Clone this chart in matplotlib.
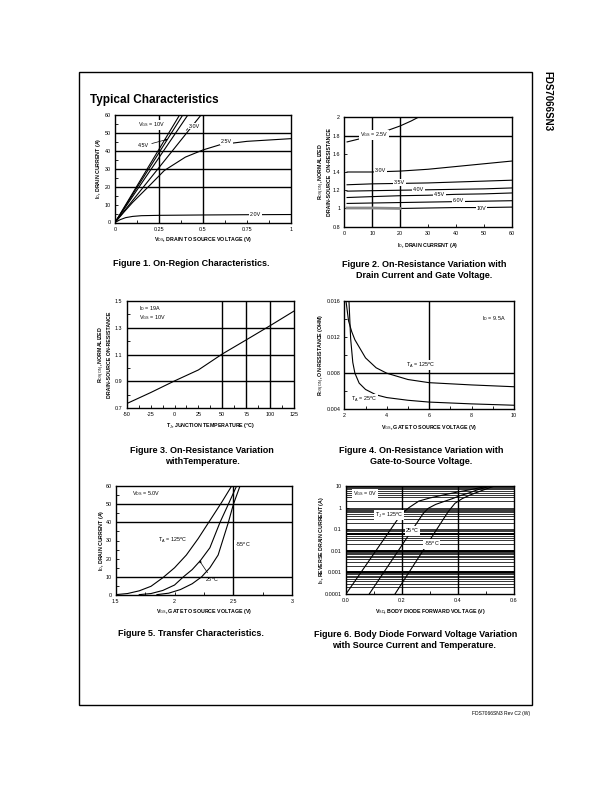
import matplotlib
matplotlib.use("Agg")
import matplotlib.pyplot as plt
from matplotlib.ticker import AutoMinorLocator, FixedLocator
from matplotlib.patches import Rectangle

plt.rcParams['font.family'] = ['Liberation Sans', 'DejaVu Sans']
plt.rcParams['mathtext.fontset'] = 'custom'
plt.rcParams['mathtext.rm'] = 'Liberation Sans'
plt.rcParams['mathtext.it'] = 'Liberation Sans'
plt.rcParams['mathtext.bf'] = 'Liberation Sans:bold'
plt.rcParams['axes.unicode_minus'] = False

# ---------------- data ----------------
# Figure 1: On-region characteristics
f1_lin_labels = ['10V', '6.0V', '4.5V', '3.0V']
f1_lin_vds_end = [0.367, 0.385, 0.414, 0.489]     # VDS (V) where ID reaches 60 A
f1_lin_id_end = 60
f1_vds_25 = [0, 0.05, 0.10, 0.19, 0.28, 0.40, 0.50, 0.60, 0.75, 1.00]
f1_id_25 = [0, 5.7, 11.2, 20, 29, 36.5, 40.5, 43.5, 45.3, 46.8]
f1_vds_20 = [0, 0.03, 0.06, 0.10, 0.15, 0.25, 0.50, 0.75, 1.00]
f1_id_20 = [0, 1.6, 2.7, 3.4, 3.8, 4.0, 4.2, 4.35, 4.45]

# Figure 2: normalized RDS(on) vs drain current
f2_id = [1, 10, 20, 30, 40, 50, 60]
f2_id_25 = [1, 5, 10, 15, 20, 24, 26.5]
f2_r_25 = [1.73, 1.76, 1.805, 1.85, 1.905, 1.96, 2.0]
f2_r_30 = [1.40, 1.40, 1.41, 1.43, 1.46, 1.49, 1.52]
f2_r_35 = [1.26, 1.27, 1.275, 1.28, 1.29, 1.30, 1.31]
f2_r_40 = [1.19, 1.195, 1.20, 1.205, 1.21, 1.215, 1.225]
f2_r_45 = [1.12, 1.13, 1.14, 1.145, 1.155, 1.16, 1.17]
f2_r_60 = [1.055, 1.06, 1.065, 1.07, 1.075, 1.08, 1.085]
f2_r_10 = [1.005, 1.005, 1.0, 1.005, 1.01, 1.01, 1.015]

# Figure 3: normalized RDS(on) vs temperature
f3_tj = [-50, -25, 0, 25, 50, 75, 100, 125]
f3_r = [0.735, 0.817, 0.904, 0.986, 1.105, 1.21, 1.316, 1.425]

# Figure 4: RDS(on) vs VGS
f4_vgs_125 = [2.08, 2.2, 2.35, 2.5, 3.0, 3.5, 4.0, 5.0, 6.0, 8.0, 10.0]
f4_r_125 = [0.016, 0.0138, 0.0126, 0.0117, 0.0097, 0.0086, 0.0080, 0.0073, 0.00695, 0.0067, 0.0065]
f4_vgs_25 = [2.22, 2.3, 2.4, 2.5, 2.7, 3.0, 3.5, 4.0, 5.0, 6.0, 8.0, 10.0]
f4_r_25 = [0.016, 0.0118, 0.0092, 0.0080, 0.0069, 0.0062, 0.0056, 0.0053, 0.0050, 0.0048, 0.0046, 0.00445]

# Figure 5: transfer characteristics
f5_vgs_125 = [1.5, 1.6, 1.7, 1.8, 1.9, 2.0, 2.1, 2.2, 2.3, 2.4, 2.485]
f5_id_125 = [0.2, 0.8, 2.3, 4.8, 9.5, 15, 22, 31, 41, 51, 60]
f5_vgs_25 = [1.7, 1.8, 1.9, 2.0, 2.075, 2.15, 2.22, 2.3, 2.386, 2.457, 2.527]
f5_id_25 = [0.2, 0.8, 2.5, 5.5, 10, 14, 19, 26, 40, 50, 60]
f5_vgs_m55 = [1.85, 1.95, 2.05, 2.15, 2.23, 2.3, 2.37, 2.457, 2.5, 2.556]
f5_id_m55 = [0.2, 1, 3, 6.2, 10, 15, 22, 40, 50, 60]

# Figure 6: body diode forward voltage
f6_vsd_125 = [0.0, 0.187, 0.205, 0.225, 0.26, 0.30, 0.35, 0.40, 0.45, 0.50]
f6_is_125 = [1e-4, 0.32, 0.6, 1.0, 2.0, 2.8, 3.9, 5.3, 7.0, 9.5]
f6_vsd_25 = [0.083, 0.276, 0.294, 0.32, 0.348, 0.38, 0.407, 0.44, 0.467, 0.514]
f6_is_25 = [1e-4, 0.54, 0.93, 1.4, 1.88, 2.6, 3.56, 4.8, 6.5, 9.8]
f6_vsd_m55 = [0.175, 0.365, 0.389, 0.415, 0.443, 0.47, 0.49, 0.526]
f6_is_m55 = [1e-4, 0.65, 1.57, 2.6, 3.83, 5.2, 6.5, 9.5]

# ---------------- layout ----------------
W, H = 612, 792
fig = plt.figure(figsize=(W / 100, H / 100), dpi=100)
fig.patch.set_facecolor('white')

TICK_FS = 3.9
LAB_FS = 3.8
ANN_FS = 3.9
CAP_FONT = ['Liberation Sans Narrow', 'Liberation Sans', 'DejaVu Sans']
CAP_FS = 6.5
LW = 0.8
GLW = 1.0
WB = dict(fc='white', ec='none', pad=0.6)


def make_ax(l, t, r, b):
    ax = fig.add_axes([l / W, 1 - b / H, (r - l) / W, (b - t) / H])
    for s in ax.spines.values():
        s.set_linewidth(1.0)
    ax.tick_params(which='both', direction='in', width=0.6, labelsize=TICK_FS, pad=3,
                   top=False, right=False)
    ax.tick_params(which='major', length=2.5)
    ax.tick_params(which='minor', length=2.0)
    return ax, (r - l), (b - t)


def labels(ax, w, h, xl, yl, dx, dy):
    ax.set_xlabel(xl, fontsize=LAB_FS, fontweight='bold', va='center')
    ax.xaxis.set_label_coords(0.5, -dy / h)
    ax.set_ylabel(yl, fontsize=LAB_FS, fontweight='bold', va='center', ha='center',
                  linespacing=1.15)
    ax.yaxis.set_label_coords(-dx / w, 0.5)


def grid(ax, xs, ys, lw=GLW):
    for x in xs:
        ax.axvline(x, color='k', lw=lw, zorder=1)
    for y in ys:
        ax.axhline(y, color='k', lw=lw, zorder=1)


def ann(ax, x, y, s, **kw):
    kw.setdefault('fontsize', ANN_FS)
    kw.setdefault('va', 'center')
    kw.setdefault('bbox', WB)
    ax.text(x, y, s, zorder=4, **kw)


def caption(x, y, s):
    fig.text(x / W, 1 - y / H, s, ha='center', va='center', fontsize=CAP_FS,
             fontweight='bold', family=CAP_FONT)


# page furniture
fig.add_artist(Rectangle((79 / W, 1 - 705 / H), (532 - 79) / W, (705 - 72) / H,
                         transform=fig.transFigure, fill=False, lw=1.0, ec='k'))
fig.text(547 / W, 1 - 101 / H, 'FDS7066SN3', rotation=-90, ha='center', va='center',
         fontsize=7.0, fontweight='bold', family=CAP_FONT)
fig.text(90 / W, 1 - 100 / H, 'Typical Characteristics', ha='left', va='center',
         fontsize=8.5, fontweight='bold')
fig.text(530 / W, 1 - 714 / H, 'FDS7066SN3 Rev C2 (W)', ha='right', va='center',
         fontsize=3.6)

# ---------------- Figure 1 ----------------
ax, w, h = make_ax(115, 115, 291, 222.5)
ax.set_xlim(0, 1)
ax.set_ylim(0, 60)
ax.set_xticks([0, 0.25, 0.5, 0.75, 1])
ax.set_xticklabels(['0', '0.25', '0.5', '0.75', '1'])
ax.set_yticks(range(0, 61, 10))
ax.xaxis.set_minor_locator(AutoMinorLocator(2))
ax.yaxis.set_minor_locator(AutoMinorLocator(2))
grid(ax, [0.25, 0.5], [20, 30, 40, 50])
for xe in f1_lin_vds_end:
    ax.plot([0, xe], [0, f1_lin_id_end], color='k', lw=LW, zorder=2)
ax.plot(f1_vds_25, f1_id_25, color='k', lw=LW, zorder=2)
ax.plot(f1_vds_20, f1_id_20, color='k', lw=LW, zorder=2)
ann(ax, 0.13, 54.5, r'V$_{\mathrm{GS}}$ = 10V')
ax.annotate('4.5V', xy=(0.30, 46.5), xytext=(0.13, 42.8), fontsize=ANN_FS, va='center',
            zorder=4, arrowprops=dict(arrowstyle='-|>', lw=0.5, color='k',
                                      mutation_scale=3, shrinkA=0, shrinkB=0))
ann(ax, 0.42, 53.8, '3.0V')
ax.plot([0.405, 0.42], [51.5, 53.0], color='k', lw=0.5, zorder=3)
ann(ax, 0.60, 45.0, '2.5V')
ann(ax, 0.765, 4.6, '2.0V')
labels(ax, w, h, r'V$_{\mathrm{DS}}$, DRAIN TO SOURCE VOLTAGE (V)',
       r'I$_{\mathrm{D}}$, DRAIN CURRENT (A)', 16.7, 16.5)
caption(191, 264, 'Figure 1. On-Region Characteristics.')

# ---------------- Figure 2 ----------------
ax, w, h = make_ax(344.3, 117.3, 511.7, 226.7)
ax.set_xlim(0, 60)
ax.set_ylim(0.8, 2.0)
ax.set_xticks(range(0, 61, 10))
ax.set_yticks([0.8, 1.0, 1.2, 1.4, 1.6, 1.8, 2.0])
ax.set_yticklabels(['0.8', '1', '1.2', '1.4', '1.6', '1.8', '2'])
grid(ax, [10, 20], [1.8])
ax.plot(f2_id_25, f2_r_25, color='k', lw=LW, zorder=2)
for r in [f2_r_30, f2_r_35, f2_r_40, f2_r_45, f2_r_60]:
    ax.plot(f2_id, r, color='k', lw=LW, zorder=2)
ax.plot(f2_id, f2_r_10, color='k', lw=LW, zorder=2)
ax.plot(f2_id[:3], f2_r_10[:3], color='#888888', lw=2.0, zorder=2)
ann(ax, 5.6, 1.806, r'V$_{\mathrm{GS}}$ = 2.5V')
ann(ax, 11.0, 1.42, '3.0V')
ann(ax, 17.8, 1.283, '3.5V')
ann(ax, 24.7, 1.205, '4.0V')
ann(ax, 32.0, 1.152, '4.5V')
ann(ax, 39.0, 1.085, '6.0V')
ann(ax, 47.5, 1.005, '10V')
labels(ax, w, h, r'I$_{\mathrm{D}}$, DRAIN CURRENT (A)',
       'R$_{\\mathrm{DS(ON)}}$, NORMALIZED\nDRAIN-SOURCE  ON-RESISTANCE', 20, 18.3)
caption(424, 264.3, 'Figure 2. On-Resistance Variation with')
caption(424, 276, 'Drain Current and Gate Voltage.')

# ---------------- Figure 3 ----------------
ax, w, h = make_ax(126.7, 301, 294, 408.3)
ax.set_xlim(-50, 125)
ax.set_ylim(0.7, 1.5)
ax.set_xticks(range(-50, 126, 25))
ax.set_yticks([0.7, 0.9, 1.1, 1.3, 1.5])
ax.xaxis.set_minor_locator(AutoMinorLocator(2))
ax.yaxis.set_minor_locator(AutoMinorLocator(2))
grid(ax, [50, 75, 100], [0.9, 1.1, 1.3])
ax.plot(f3_tj, f3_r, color='k', lw=LW, zorder=2)
ann(ax, -37, 1.44, r'I$_{\mathrm{D}}$ = 19A', bbox=None)
ann(ax, -37, 1.38, r'V$_{\mathrm{GS}}$ = 10V', bbox=None)
labels(ax, w, h, r'T$_{\mathrm{J}}$, JUNCTION TEMPERATURE ($^{\mathrm{o}}$C)',
       'R$_{\\mathrm{DS(ON)}}$, NORMALIZED\nDRAIN-SOURCE ON-RESISTANCE', 22.4, 18.4)
caption(202, 450, 'Figure 3. On-Resistance Variation')
caption(202, 461, 'withTemperature.')

# ---------------- Figure 4 ----------------
ax, w, h = make_ax(344.3, 301, 514, 409.3)
ax.set_xlim(2, 10)
ax.set_ylim(0.004, 0.016)
ax.set_xticks([2, 4, 6, 8, 10])
ax.set_yticks([0.004, 0.008, 0.012, 0.016])
ax.set_yticklabels(['0.004', '0.008', '0.012', '0.016'])
ax.xaxis.set_minor_locator(AutoMinorLocator(2))
ax.yaxis.set_minor_locator(AutoMinorLocator(2))
grid(ax, [6], [0.008])
ax.plot(f4_vgs_125, f4_r_125, color='k', lw=LW, zorder=2)
ax.plot(f4_vgs_25, f4_r_25, color='k', lw=LW, zorder=2)
ann(ax, 8.5, 0.0141, r'I$_{\mathrm{D}}$ = 9.5A')
ann(ax, 4.9, 0.0089, r'T$_{\mathrm{A}}$ = 125$^{\mathrm{o}}$C')
ann(ax, 2.3, 0.0051, r'T$_{\mathrm{A}}$ = 25$^{\mathrm{o}}$C')
labels(ax, w, h, r'V$_{\mathrm{GS}}$, GATE TO SOURCE VOLTAGE (V)',
       r'R$_{\mathrm{DS(ON)}}$, ON-RESISTANCE (OHM)', 22.6, 18)
caption(421, 450, 'Figure 4. On-Resistance Variation with')
caption(421, 461, 'Gate-to-Source Voltage.')

# ---------------- Figure 5 ----------------
ax, w, h = make_ax(115.7, 486, 292.3, 595)
ax.set_xlim(1.5, 3)
ax.set_ylim(0, 60)
ax.set_xticks([1.5, 2, 2.5, 3])
ax.set_xticklabels(['1.5', '2', '2.5', '3'])
ax.set_yticks(range(0, 61, 10))
ax.xaxis.set_minor_locator(AutoMinorLocator(2))
ax.yaxis.set_minor_locator(AutoMinorLocator(2))
grid(ax, [2.5], [10, 40, 50])
ax.plot(f5_vgs_125, f5_id_125, color='k', lw=LW, zorder=2)
ax.plot(f5_vgs_25, f5_id_25, color='k', lw=LW, zorder=2)
ax.plot(f5_vgs_m55, f5_id_m55, color='k', lw=LW, zorder=2)
ann(ax, 1.64, 56, r'V$_{\mathrm{DS}}$ = 5.0V')
ann(ax, 1.86, 30, r'T$_{\mathrm{A}}$ = 125$^{\mathrm{o}}$C')
ann(ax, 2.51, 27.5, r'-55$^{\mathrm{o}}$C')
ax.annotate(r'25$^{\mathrm{o}}$C', xy=(2.21, 19.0), xytext=(2.26, 8.5),
            fontsize=ANN_FS, va='center', zorder=4,
            arrowprops=dict(arrowstyle='-|>', lw=0.5, color='k', mutation_scale=3,
                            shrinkA=0, shrinkB=0))
labels(ax, w, h, r'V$_{\mathrm{GS}}$, GATE TO SOURCE VOLTAGE (V)',
       r'I$_{\mathrm{D}}$, DRAIN CURRENT (A)', 14, 16.7)
caption(191, 633.7, 'Figure 5. Transfer Characteristics.')

# ---------------- Figure 6 ----------------
ax, w, h = make_ax(346, 486, 514, 594)
ax.set_yscale('log')
ax.set_xlim(0, 0.6)
ax.set_ylim(1e-4, 10)
ax.set_xticks([0, 0.2, 0.4, 0.6])
ax.xaxis.set_minor_locator(AutoMinorLocator(2))
ax.set_yticks([1e-4, 1e-3, 1e-2, 1e-1, 1, 10])
ax.set_yticklabels(['0.0001', '0.001', '0.01', '0.1', '1', '10'])
ax.yaxis.set_minor_locator(FixedLocator([]))
minor_levels = [m * 10.0 ** k for k in range(-4, 1) for m in range(2, 10)]
grid(ax, [0.2, 0.4], [], lw=GLW)
grid(ax, [], minor_levels + [1e-3, 1e-2, 1e-1, 1], lw=0.55)
grid(ax, [], [1e-3, 1e-2, 0.06], lw=1.4)
ax.plot(f6_vsd_125, f6_is_125, color='k', lw=LW, zorder=2)
ax.plot(f6_vsd_25, f6_is_25, color='k', lw=LW, zorder=2)
ax.plot(f6_vsd_m55, f6_is_m55, color='k', lw=LW, zorder=2)
ann(ax, 0.026, 4.3, r'V$_{\mathrm{GS}}$ = 0V')
ann(ax, 0.104, 0.45, r'T$_{\mathrm{J}}$ = 125$^{\mathrm{o}}$C')
ann(ax, 0.212, 0.083, r'25$^{\mathrm{o}}$C')
ann(ax, 0.278, 0.0215, r'-55$^{\mathrm{o}}$C')
labels(ax, w, h, r'V$_{\mathrm{SD}}$, BODY DIODE FORWARD VOLTAGE (V)',
       r'I$_{\mathrm{S}}$, REVERSE DRAIN CURRENT (A)', 24.3, 17)
caption(415.5, 634.3, 'Figure 6. Body Diode Forward Voltage Variation')
caption(414, 645, 'with Source Current and Temperature.')

fig.savefig('out.png', dpi=100)
